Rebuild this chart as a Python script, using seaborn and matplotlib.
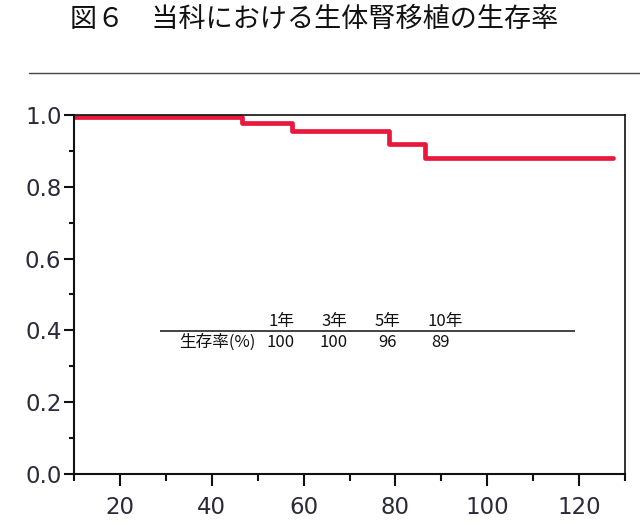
import matplotlib
matplotlib.use("Agg")
import matplotlib.pyplot as plt
import seaborn as sns
import pandas as pd
from matplotlib.ticker import MultipleLocator
from matplotlib.lines import Line2D

# ---- data ----
months = [10, 46.5, 57.5, 78.5, 86.5, 127.4]
survival = [0.995, 0.977, 0.955, 0.919, 0.879, 0.879]

table_years = ["1年", "3年", "5年", "10年"]
table_rates = ["100", "100", "96", "89"]
row_label = "生存率(%)"
title = "図６　当科における生体腎移植の生存率"

sns.set_theme(style="white")
plt.rcParams["font.family"] = ["DejaVu Sans"]

fig = plt.figure(figsize=(6.4, 5.27), dpi=100)
ax = fig.add_axes([74/640, 1-474/527, (625-74)/640, (474-115)/527])

df = pd.DataFrame({"month": months, "survival": survival})
sns.lineplot(data=df, x="month", y="survival", ax=ax, color="#E8193C",
             linewidth=3.4, drawstyle="steps-post", estimator=None)

ax.set_xlim(10, 130)
ax.set_ylim(0, 1.0)
ax.xaxis.set_major_locator(MultipleLocator(20))
ax.xaxis.set_minor_locator(MultipleLocator(10))
ax.yaxis.set_major_locator(MultipleLocator(0.2))
ax.yaxis.set_minor_locator(MultipleLocator(0.1))
ax.set_xticks([20, 40, 60, 80, 100, 120])
ax.yaxis.set_major_formatter(matplotlib.ticker.FormatStrFormatter("%.1f"))
ax.set_xlabel("")
ax.set_ylabel("")

for s in ax.spines.values():
    s.set_color("#111111")
    s.set_linewidth(1.5)
ax.spines["top"].set_linewidth(1.2)
ax.spines["right"].set_linewidth(1.2)

tick_color = "#2a2a3a"
ax.tick_params(axis="y", which="major", direction="out", length=7, width=1.5,
               color="#111111", labelsize=16.5, labelcolor=tick_color, pad=2, left=True)
ax.tick_params(axis="y", which="minor", direction="out", length=3.5, width=1.5,
               color="#111111", left=True)
ax.tick_params(axis="x", which="major", direction="out", length=8.5, width=1.5,
               color="#111111", labelsize=16.5, labelcolor=tick_color, pad=7, bottom=True)
ax.tick_params(axis="x", which="minor", direction="out", length=5, width=1.5,
               color="#111111", bottom=True)

# summary table inside the plot
cjk = ["Noto Sans CJK JP", "DejaVu Sans"]
ax.hlines(0.398, 28.7, 119.1, color="#111111", linewidth=1.1)
year_x = [55.2, 66.7, 78.3, 90.9]
rate_x = [55.0, 66.5, 78.3, 89.8]
for xx, t in zip(year_x, table_years):
    ax.text(xx, 0.426, t, ha="center", va="center", fontsize=12, family=cjk, color="#111111")
for xx, t in zip(rate_x, table_rates):
    ax.text(xx, 0.366, t, ha="center", va="center", fontsize=12, family=cjk, color="#111111")
ax.text(41.3, 0.366, row_label, ha="center", va="center", fontsize=12, family=cjk, color="#111111")

# title and separator
fig.text(314/640, 1-19/527, title, ha="center", va="center", fontsize=19.5,
         family=cjk, color="#111111")
fig.add_artist(Line2D([29/640, 1.0], [1-73/527, 1-73/527], color="#444444",
                      linewidth=1.0, transform=fig.transFigure))

fig.savefig("out.png", dpi=100)
